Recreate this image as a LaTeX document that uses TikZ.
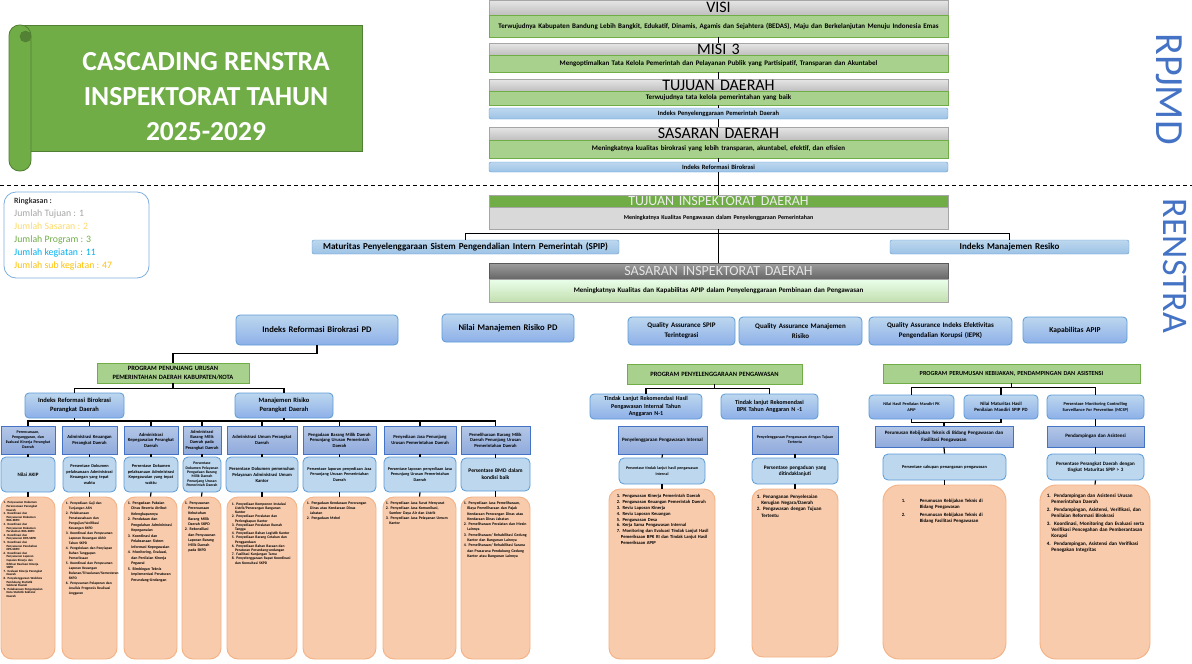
\documentclass[tikz,border=0pt]{standalone}
\usepackage{fontspec}
\setmainfont{Carlito}
\setlength{\parindent}{0pt}
\newcommand\fs[2]{\fontsize{#1}{#2}\selectfont}
\newcommand\li[1]{\hangindent=0.9em\hangafter=1 #1\par}
\newcommand\lj[3]{\hangindent=#1\hangafter=1\makebox[#1][l]{#2}#3\par}
\definecolor{hdrA}{HTML}{E6E6E6}
\definecolor{hdrB}{HTML}{BFBFBF}
\definecolor{hdrD}{HTML}{A6A6A6}
\definecolor{grnF}{HTML}{A9D18E}
\definecolor{grnD}{HTML}{70AD47}
\definecolor{barA}{HTML}{BDD7EE}
\definecolor{barB}{HTML}{9DC3E6}
\definecolor{barD}{HTML}{5B9BD5}
\definecolor{kegA}{HTML}{B4C7E7}
\definecolor{kegB}{HTML}{8FAADC}
\definecolor{kegD}{HTML}{4472C4}
\definecolor{indF}{HTML}{BDD7EE}
\definecolor{orF}{HTML}{F8CBAD}
\definecolor{orD}{HTML}{F4B183}
\definecolor{bnF}{HTML}{70AD47}
\definecolor{bnD}{HTML}{507E32}
\definecolor{bnK}{HTML}{548235}
\definecolor{rpj}{HTML}{4472C4}
\definecolor{cTuj}{HTML}{A5A5A5}
\definecolor{cSas}{HTML}{FFD966}
\definecolor{cPro}{HTML}{70AD47}
\definecolor{cKeg}{HTML}{00B0F0}
\definecolor{cSub}{HTML}{FFC000}
\newcommand\bx[7]{%
 \pgfmathsetmacro\bxw{#5-#3}%
 \pgfmathsetmacro\bxh{#6-#4}%
 \pgfmathsetmacro\bxx{(#3+#5)/2}%
 \pgfmathsetmacro\bxy{(#4+#6)/2}%
 \pgfmathsetmacro\bxt{#5-#3-3}%
 \node[inner sep=1.5pt, align=center, #1, minimum width=\bxw pt, minimum height=\bxh pt, text width=\bxt pt] (#2) at (\bxx,\bxy) {#7};}
\newcommand\ot[7]{\node[otext, font=#6, text width=#5pt, anchor=north west] (#1) at ([xshift=#3pt, yshift=-#4pt]#2.north west) {#7};}
\tikzset{
 hdr/.style={draw=hdrD, top color=hdrA, bottom color=hdrB, inner sep=0pt, font=\fs{16}{16}, text height=10.3pt, text depth=0pt},
 gbox/.style={draw=grnD, fill=grnF, line width=0.8pt, font=\bfseries\fs{7}{8}},
 bar/.style={draw=barD, top color=barA, bottom color=barB, rounded corners=2pt, font=\bfseries\fs{6.5}{7.5}},
 tih/.style={draw=hdrD, fill=grnD, inner sep=0pt, text=white!93!black, font=\fs{14}{14}, text height=9pt, text depth=0pt},
 tib/.style={draw=hdrD, fill=black!15, font=\bfseries\fs{6}{7}},
 sih/.style={draw=black!65, top color=black!38, bottom color=black!60, inner sep=0pt, text=white!90!black, font=\fs{14}{14}, text height=9pt, text depth=0pt},
 sib/.style={draw=hdrD, top color=green!8!white, bottom color=grnF!70!white, font=\bfseries\fs{7}{8}},
 mid/.style={draw=barD, top color=barA, bottom color=barB!90!blue, rounded corners=4pt, line width=0.8pt, font=\bfseries\fs{8.6}{10}},
 prog/.style={draw=grnD, fill=grnF, line width=0.8pt, font=\bfseries\fs{6.5}{8.5}},
 keg/.style={draw=kegD, top color=kegA, bottom color=kegB, line width=0.8pt, font=\bfseries\fs{4.6}{5.6}},
 indi/.style={draw=barD, fill=indF, rounded corners=5pt, line width=0.8pt, font=\bfseries\fs{4.3}{5.4}},
 orng/.style={draw=orD, fill=orF, rounded corners=11pt, line width=0.9pt},
 otext/.style={inner sep=0pt, align=left},
 conn/.style={line width=1.2pt, black},
}
\begin{document}
\hyphenpenalty=10000
\exhyphenpenalty=10000
\begin{tikzpicture}[x=1pt,y=-1pt]
\useasboundingbox (0,0) rectangle (1192,664);
% ---------- banner ----------
\draw[draw=bnD, fill=bnF, line width=0.8pt] (20,25) rectangle (362,151);
\draw[draw=bnD, fill=bnF, line width=0.8pt, rounded corners=10.5pt] (9,25) rectangle (31,171);
\draw[draw=bnD, fill=bnK, line width=0.6pt] (25.5,36.5) circle (5.5);
\node[font=\bfseries\fs{27.5}{35}, text=white, align=center] (title) at (206,97) {CASCADING RENSTRA\\INSPEKTORAT TAHUN\\2025-2029};
% ---------- summary ----------
\node[draw=barD!80!white, rounded corners=12pt, line width=0.8pt, minimum width=145pt, minimum height=86pt] (rkbox) at (76.5,235) {};
\node[anchor=north west, align=left, inner sep=0pt, font=\fs{9.8}{13}] (rk) at (14,197.5) {{\bfseries\fs{8}{13}\color{black!80}Ringkasan :}\\
{\color{cTuj}Jumlah Tujuan : 1}\\
{\color{cSas}Jumlah Sasaran : 2}\\
{\color{cPro}Jumlah Program : 3}\\
{\color{cKeg}Jumlah kegiatan : 11}\\
{\color{cSub}Jumlah sub kegiatan : 47}};
% ---------- separator and side labels ----------
\coordinate (dl) at (0,185);
\coordinate (dr) at (1192,185);
\draw[dash pattern=on 4pt off 3pt, line width=0.9pt] (dl) -- (dr);
\node[rotate=-90, font=\fs{40}{40}, text=rpj, inner sep=0pt] (rpjmd) at (1169,89) {RPJMD};
\node[rotate=-90, font=\fs{36}{36}, text=rpj, inner sep=0pt] (renstra) at (1175,266) {RENSTRA};
% ---------- RPJMD chain ----------
\bx{hdr}{visiH}{489}{0}{948}{15}{VISI}
\bx{gbox}{visiG}{489}{15}{948}{37}{Terwujudnya Kabupaten Bandung Lebih Bangkit, Edukatif, Dinamis, Agamis dan Sejahtera (BEDAS), Maju dan Berkelanjutan Menuju Indonesia Emas}
\bx{hdr}{misiH}{489}{43}{948}{55}{MISI 3}
\bx{gbox}{misiG}{489}{55}{948}{72}{Mengoptimalkan Tata Kelola Pemerintah dan Pelayanan Publik yang Partisipatif, Transparan dan Akuntabel}
\bx{hdr}{tujH}{489}{79}{948}{91}{TUJUAN DAERAH}
\bx{gbox}{tujG}{489}{91}{948}{105}{Terwujudnya tata kelola pemerintahan yang baik}
\bx{bar}{ippd}{489}{108}{948}{119}{Indeks Penyelenggaraan Pemerintah Daerah}
\bx{hdr}{sasH}{489}{127}{948}{140}{SASARAN DAERAH}
\bx{gbox}{sasG}{489}{140}{948}{158}{Meningkatnya kualitas birokrasi yang lebih transparan, akuntabel, efektif, dan efisien}
\bx{bar}{irb}{489}{162}{948}{172}{Indeks Reformasi Birokrasi}
\draw[conn] (visiG.south) -- (misiH.north);
\draw[conn] (misiG.south) -- (tujH.north);
\draw[conn] (tujG.south) -- (ippd.north);
\draw[conn] (ippd.south) -- (sasH.north);
\draw[conn] (sasG.south) -- (irb.north);
% ---------- Renstra ----------
\bx{tih}{tiH}{489}{195}{948}{207}{TUJUAN INSPEKTORAT DAERAH}
\bx{tib}{tiB}{489}{207}{948}{229}{Meningkatnya Kualitas Pengawasan dalam Penyelenggaraan Pemerintahan}
\bx{bar,font=\bfseries\fs{9.1}{10}}{mat}{312}{240}{619}{254}{Maturitas Penyelenggaraan Sistem Pengendalian Intern Pemerintah (SPIP)}
\bx{bar,font=\bfseries\fs{9}{10}}{imr}{890}{240}{1129}{254}{Indeks Manajemen Resiko}
\bx{sih}{siH}{489}{263}{948}{279}{SASARAN INSPEKTORAT DAERAH}
\bx{sib}{siB}{489}{279}{948}{302}{Meningkatnya Kualitas dan Kapabilitas APIP dalam Penyelenggaraan Pembinaan dan Pengawasan}
\draw[conn] (irb.south) -- (tiH.north);
\draw[conn] (tiB.south) -- (siH.north);
\draw[conn] (mat.north) -- ++(0,-6) -| (imr.north);
% ---------- indicator row ----------
\bx{mid}{irbpd}{236}{315}{398}{345}{Indeks Reformasi Birokrasi PD}
\bx{mid}{nmr}{442}{314}{574}{342}{Nilai Manajemen Risiko PD}
\bx{mid,font=\bfseries\fs{7}{10}}{qa1}{628}{317}{735}{345}{Quality Assurance SPIP\\Terintegrasi}
\bx{mid,font=\bfseries\fs{7}{10}}{qa2}{739}{317}{862}{345}{Quality Assurance Manajemen\\Risiko}
\bx{mid,font=\bfseries\fs{7}{10}}{qa3}{869}{317}{1012}{345}{Quality Assurance Indeks Efektivitas\\Pengendalian Korupsi (IEPK)}
\bx{mid,font=\bfseries\fs{7.5}{10}}{kap}{1023}{317}{1127}{343}{Kapabilitas APIP}
% ---------- left program ----------
\bx{prog}{pp}{97}{363}{249}{383}{PROGRAM PENUNJANG URUSAN\\PEMERINTAHAN DAERAH KABUPATEN/KOTA}
\bx{mid,font=\bfseries\fs{6.5}{9}}{irbd}{25}{393}{124}{418}{Indeks Reformasi Birokrasi\\Perangkat Daerah}
\bx{mid,font=\bfseries\fs{6.5}{9}}{mrpd}{235}{393}{333}{418}{Manajemen Risiko\\Perangkat Daerah}
\draw[conn] (irbpd.south) -- ++(0,8) -| (pp.north);
\draw[conn] (pp.south) -- ++(0,5) -| (irbd.north);
\draw[conn] (pp.south) -- ++(0,5) -| (mrpd.north);
% kegiatan
\bx{keg,font=\bfseries\fs{4}{5}}{k1}{1}{426}{55}{454}{Perencanaan,\\Penganggaran, dan\\Evaluasi Kinerja Perangkat\\Daerah}
\bx{keg}{k2}{62}{426}{117}{454}{Administrasi Keuangan\\Perangkat Daerah}
\bx{keg}{k3}{124}{426}{178}{454}{Administrasi\\Kepegawaian Perangkat\\Daerah}
\bx{keg,font=\bfseries\fs{4.4}{5.3}}{k4}{183}{426}{221}{454}{Administrasi\\Barang Milik\\Daerah pada\\Perangkat Daerah}
\bx{keg}{k5}{227}{426}{297}{454}{Administrasi Umum Perangkat\\Daerah}
\bx{keg}{k6}{303}{426}{376}{454}{Pengadaan Barang Milik Daerah\\Penunjang Urusan Pemerintah\\Daerah}
\bx{keg}{k7}{384}{426}{456}{454}{Penyediaan Jasa Penunjang\\Urusan Pemerintahan Daerah}
\bx{keg}{k8}{461}{426}{530}{454}{Pemeliharaan Barang Milik\\Daerah Penunjang Urusan\\Pemerintahan Daerah}
\coordinate (busL) at (0,421);
\draw[conn] (k1.north) -- (k1.north |- busL) -| (k8.north);
\draw[conn] (irbd.south) -- (irbd.south |- busL);
\draw[conn] (mrpd.south) -- (mrpd.south |- busL);
\foreach \k in {k2,k3,k4,k5,k6,k7}{\draw[conn] (\k.north) -- (\k.north |- busL);}
% indikator kegiatan
\bx{indi,font=\bfseries\fs{5}{6}}{i1}{1}{457}{55}{492}{Nilai AKIP}
\bx{indi}{i2}{63}{457}{116}{492}{Persentase Dokumen\\pelaksanaan Administrasi\\Keuangan yang tepat\\waktu}
\bx{indi}{i3}{124}{457}{178}{492}{Persentase Dokumen\\pelaksanaan Administrasi\\Kepegawaian yang tepat\\waktu}
\bx{indi,font=\bfseries\fs{3.8}{4.4}}{i4}{183}{457}{221}{492}{Persentase\\Dokumen Pelayanan\\Pengadaan Barang\\Milik Daerah\\Penunjang Urusan\\Pemerintah Daerah}
\bx{indi,font=\bfseries\fs{4.6}{6}}{i5}{226}{457}{298}{492}{Persentase Dokumen pemenuhan\\Pelayanan Administrasi Umum\\Kantor}
\bx{indi,font=\bfseries\fs{4.2}{5.6}}{i6}{303}{457}{376}{492}{Persentase laporan penyediaan Jasa\\Penunjang Urusan Pemerintahan\\Daerah}
\bx{indi,font=\bfseries\fs{4.2}{5.6}}{i7}{384}{457}{456}{492}{Persentase laporan penyediaan Jasa\\Penunjang Urusan Pemerintahan\\Daerah}
\bx{indi,font=\bfseries\fs{5.5}{7}}{i8}{461}{458}{530}{491}{Persentase BMD dalam\\kondisi baik}
% sub kegiatan
\bx{orng}{o1}{1}{497}{55}{659}{}
\bx{orng}{o2}{62}{497}{117}{659}{}
\bx{orng}{o3}{124}{497}{177}{659}{}
\bx{orng}{o4}{182}{497}{221}{659}{}
\bx{orng}{o5}{227}{497}{297}{659}{}
\bx{orng}{o6}{303}{497}{376}{659}{}
\bx{orng}{o7}{383}{497}{456}{659}{}
\bx{orng}{o8}{461}{497}{530}{659}{}
\foreach \n in {1,...,8}{\draw[conn] (k\n.south) -- (i\n.north); \draw[conn] (i\n.south) -- (o\n.north);}
\ot{t1}{o1}{3}{5}{39}{\bfseries\fs{3.1}{3.6}}{\li{1. Penyusunan Dokumen Perencanaan Perangkat Daerah}\li{2. Koordinasi dan Penyusunan Dokumen RKA-SKPD}\li{3. Koordinasi dan Penyusunan Dokumen Perubahan RKA-SKPD}\li{4. Koordinasi dan Penyusunan DPA-SKPD}\li{5. Koordinasi dan Penyusunan Perubahan DPA-SKPD}\li{6. Koordinasi dan Penyusunan Laporan Capaian Kinerja dan Ikhtisar Realisasi Kinerja SKPD}\li{7. Evaluasi Kinerja Perangkat Daerah}\li{8. Penyelenggaraan Walidata Pendukung Statistik Sektoral Daerah}\li{9. Pelaksanaan Pengumpulan Data Statistik Sektoral Daerah}}
\ot{t2}{o2}{4}{5}{47}{\bfseries\fs{3.6}{5}}{\li{1. Penyediaan Gaji dan Tunjangan ASN}\li{2. Pelaksanaan Penatausahaan dan Pengujian/Verifikasi Keuangan SKPD}\li{3. Koordinasi dan Penyusunan Laporan Keuangan Akhir Tahun SKPD}\li{4. Pengelolaan dan Penyiapan Bahan Tanggapan Pemeriksaan}\li{5. Koordinasi dan Penyusunan Laporan Keuangan Bulanan/Triwulanan/Semesteran SKPD}\li{6. Penyusunan Pelaporan dan Analisis Prognosis Realisasi Anggaran}}
\ot{t3}{o3}{4}{5}{46}{\bfseries\fs{3.9}{5.5}}{\li{1. Pengadaan Pakaian Dinas Beserta Atribut Kelengkapannya}\li{2. Pendataan dan Pengolahan Administrasi Kepegawaian}\li{3. Koordinasi dan Pelaksanaan Sistem Informasi Kepegawaian}\li{4. Monitoring, Evaluasi, dan Penilaian Kinerja Pegawai}\li{5. Bimbingan Teknis Implementasi Peraturan Perundang-Undangan}}
\ot{t4}{o4}{3}{5}{33}{\bfseries\fs{3.9}{5.3}}{\li{1. Penyusunan Perencanaan Kebutuhan Barang Milik Daerah SKPD}\li{2. Rekonsiliasi dan Penyusunan Laporan Barang Milik Daerah pada SKPD}}
\ot{t5}{o5}{5}{6}{60}{\bfseries\fs{3.7}{4.2}}{\li{1. Penyediaan Komponen Instalasi Listrik/Penerangan Bangunan Kantor}\li{2. Penyediaan Peralatan dan Perlengkapan Kantor}\li{3. Penyediaan Peralatan Rumah Tangga}\li{4. Penyediaan Bahan Logistik Kantor}\li{5. Penyediaan Barang Cetakan dan Penggandaan}\li{6. Penyediaan Bahan Bacaan dan Peraturan Perundang-undangan}\li{7. Fasilitasi Kunjungan Tamu}\li{8. Penyelenggaraan Rapat Koordinasi dan Konsultasi SKPD}}
\ot{t6}{o6}{4}{5}{62}{\bfseries\fs{3.8}{5}}{\li{1. Pengadaan Kendaraan Perorangan Dinas atau Kendaraan Dinas Jabatan}\li{2. Pengadaan Mebel}}
\ot{t7}{o7}{3}{5}{66}{\bfseries\fs{3.9}{5}}{\li{1. Penyediaan Jasa Surat Menyurat}\li{2. Penyediaan Jasa Komunikasi, Sumber Daya Air dan Listrik}\li{3. Penyediaan Jasa Pelayanan Umum Kantor}}
\ot{t8}{o8}{3}{5}{64}{\bfseries\fs{3.9}{5.3}}{\li{1. Penyediaan Jasa Pemeliharaan, Biaya Pemeliharaan dan Pajak Kendaraan Perorangan Dinas atau Kendaraan Dinas Jabatan}\li{2. Pemeliharaan Peralatan dan Mesin Lainnya}\li{3. Pemeliharaan/ Rehabilitasi Gedung Kantor dan Bangunan Lainnya}\li{4. Pemeliharaan/ Rehabilitasi Sarana dan Prasarana Pendukung Gedung Kantor atau Bangunan Lainnya}}
% ---------- program penyelenggaraan pengawasan ----------
\bx{prog}{pg}{627}{364}{802}{384}{PROGRAM PENYELENGGARAAN PENGAWASAN}
\bx{mid,font=\bfseries\fs{6}{7.6}}{tl1}{590}{394}{702}{419}{Tindak Lanjut Rekomendasi Hasil\\Pengawasan Internal Tahun\\Anggaran N-1}
\bx{mid,font=\bfseries\fs{6}{7.6}}{tl2}{721}{394}{818}{419}{Tindak lanjut Rekomendasi\\BPK Tahun Anggaran N -1}
\draw[conn] (pg.south) -- ++(0,4) -| (tl1.north);
\draw[conn] (pg.south) -- ++(0,4) -| (tl2.north);
\bx{keg,font=\bfseries\fs{5}{6}}{kg1}{618}{426}{707}{454}{Penyelenggaraan Pengawasan Internal}
\bx{keg,font=\bfseries\fs{4}{5}}{kg2}{752}{426}{838}{454}{Penyelenggaraan Pengawasan dengan Tujuan\\Tertentu}
\bx{indi,font=\bfseries\fs{4}{5.5}}{ig1}{619}{458}{705}{484}{Persentase tindak lanjut hasil pengawasan\\internal}
\bx{indi,font=\bfseries\fs{5.3}{6.8}}{ig2}{752}{458}{838}{484}{Persentase pengaduan yang\\ditindaklanjuti}
\bx{orng}{og1}{609}{489}{715}{659}{}
\bx{orng}{og2}{752}{489}{838}{657}{}
\draw[conn] (kg1.south) -- (ig1.north);
\draw[conn] (ig1.south) -- (og1.north);
\draw[conn] (kg2.south) -- (ig2.north);
\draw[conn] (ig2.south) -- (og2.north);
\ot{tg1}{og1}{8}{6}{94}{\bfseries\fs{4.6}{5.8}}{\li{1. Pengawasan Kinerja Pemerintah Daerah}\li{2. Pengawasan Keuangan Pemerintah Daerah}\li{3. Reviu Laporan Kinerja}\li{4. Reviu Laporan Keuangan}\li{5. Pengawasan Desa}\li{6. Kerja Sama Pengawasan Internal}\li{7. Monitoring dan Evaluasi Tindak Lanjut Hasil Pemeriksaan BPK RI dan Tindak Lanjut Hasil Pemeriksaan APIP}}
\ot{tg2}{og2}{5}{6}{78}{\bfseries\fs{5}{6.3}}{\li{1. Penanganan Penyelesaian Kerugian Negara/Daerah}\li{2. Pengawasan dengan Tujuan Tertentu}}
% ---------- program perumusan kebijakan ----------
\bx{prog,font=\bfseries\fs{6.2}{8}}{pk}{883}{364}{1140}{383}{PROGRAM PERUMUSAN KEBIJAKAN, PENDAMPINGAN DAN ASISTENSI}
\bx{mid,font=\bfseries\fs{4.2}{6}}{n1}{869}{395}{954}{419}{Nilai Hasil Penilaian Mandiri PK\\APIP}
\bx{mid,font=\bfseries\fs{4.8}{6.5}}{n2}{964}{395}{1038}{419}{Nilai Maturitas Hasil\\Penilaian Mandiri SPIP PD}
\bx{mid,font=\bfseries\fs{4.4}{6}}{n3}{1047}{395}{1144}{419}{Persentase Monitoring Controlling\\Surveillance For Prevention (MCSP)}
\draw[conn] (pk.south) -- ++(0,4) -| (n1.north);
\draw[conn] (pk.south) -- ++(0,4) -| (n2.north);
\draw[conn] (pk.south) -- ++(0,4) -| (n3.north);
\bx{keg,font=\bfseries\fs{5}{7}}{kk1}{875}{426}{1013}{447}{Perumusan Kebijakan Teknis di Bidang Pengawasan dan\\Fasilitasi Pengawasan}
\bx{keg,font=\bfseries\fs{5}{6}}{kk2}{1047}{426}{1144}{447}{Pendampingan dan Asistensi}
\coordinate (nb) at ([yshift=-3pt]n1.south);
\draw[conn] (n1.south) -- (nb) -| (n2.south);
\draw[conn] (kk1.north) -- (kk1.north |- nb);
\draw[conn] (n3.south) -- (kk2.north);
\bx{indi,font=\bfseries\fs{4.4}{5.5}}{ik1}{883}{454}{1006}{480}{Persentase cakupan penanganan pengawasan}
\bx{indi,font=\bfseries\fs{5}{6.6}}{ik2}{1047}{454}{1144}{480}{Persentase Perangkat Daerah dengan\\tingkat Maturitas SPIP > 3}
\bx{orng,rounded corners=16pt}{ok1}{883}{485}{1006}{659}{}
\bx{orng,rounded corners=16pt}{ok2}{1040}{485}{1150}{659}{}
\draw[conn] (kk1.south) -- (ik1.north);
\draw[conn] (ik1.south) -- (ok1.north);
\draw[conn] (kk2.south) -- (ik2.north);
\draw[conn] (ik2.south) -- (ok2.north);
\ot{tk1}{ok1}{19}{14}{92}{\bfseries\fs{4.8}{6}}{\lj{18pt}{1.}{Perumusan Kebijakan Teknis di Bidang Pengawasan}\vspace{2pt}\lj{18pt}{2.}{Perumusan Kebijakan Teknis di Bidang Fasilitasi Pengawasan}}
\ot{tk2}{ok2}{7}{9}{98}{\bfseries\fs{5.1}{6.2}}{\li{1.~~Pendampingan dan Asistensi Urusan Pemerintahan Daerah}\vspace{1.5pt}\li{2.~~Pendampingan, Asistensi, Verifikasi, dan Penilaian Reformasi Birokrasi}\vspace{1.5pt}\li{3.~~Koordinasi, Monitoring dan Evaluasi serta Verifikasi Pencegahan dan Pemberantasan Korupsi}\vspace{1.5pt}\li{4.~~Pendampingan, Asistensi dan Verifikasi Penegakan Integritas}}
\end{tikzpicture}
\end{document}
